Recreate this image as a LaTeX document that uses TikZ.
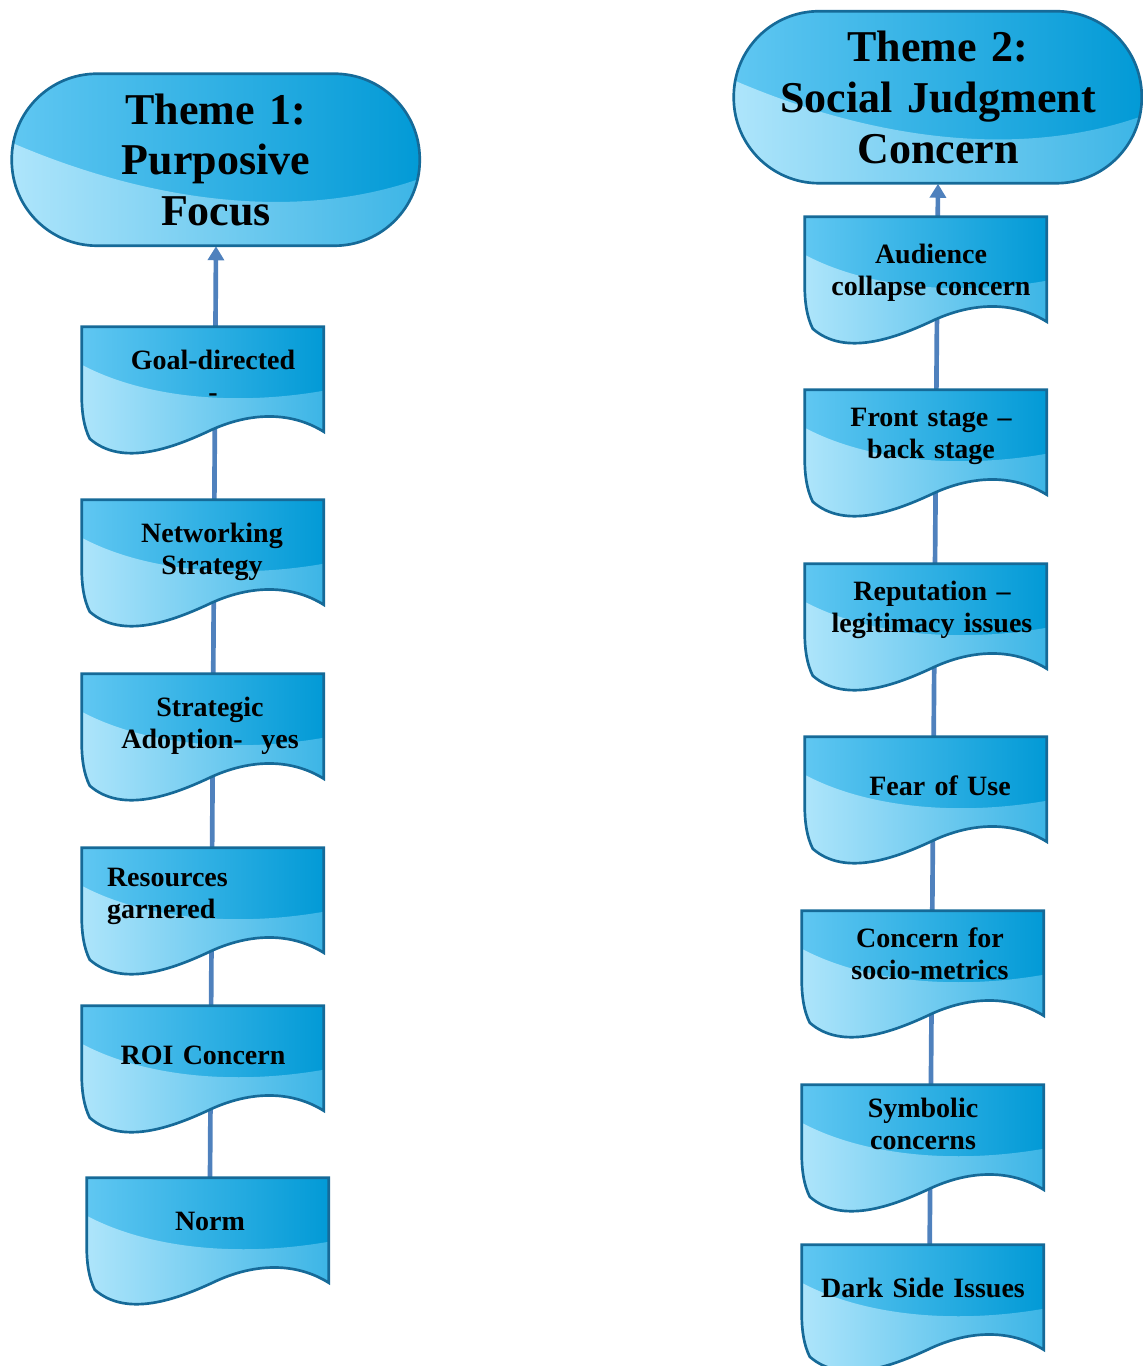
\documentclass[tikz,border=0pt]{standalone}
\usepackage{fontspec}
\setmainfont{Liberation Serif}[WordSpace=0.8]
\usetikzlibrary{arrows.meta}
\pgfdeclarelayer{lines}
\pgfdeclarelayer{shapes}
\pgfsetlayers{lines,shapes,main}
\definecolor{boxleft}{RGB}{96,199,242}
\definecolor{boxright}{RGB}{2,154,214}
\definecolor{glossleft}{RGB}{174,229,251}
\definecolor{glossright}{RGB}{60,181,230}
\definecolor{boxedge}{RGB}{22,106,152}
\definecolor{connblue}{RGB}{79,129,189}
\tikzset{
	box/.style={rectangle, text width=160pt, inner xsep=10.75pt, inner ysep=0pt, minimum height=78.75pt, align=center, text height=12pt, font=\bfseries\fontsize{21}{24}\selectfont},
	base/.style={text depth=#1},
	nudge/.style={execute at begin node={\advance\leftskip by #1}},
	theme/.style={rectangle, text width=250pt, inner xsep=28pt, inner ysep=0pt, minimum height=129pt, align=center, font=\bfseries\fontsize{33}{38}\selectfont},
	conn/.style={connblue, line width=3.5pt, -{Triangle[width=12pt,length=10.5pt]}},
	edge/.style={draw=boxedge, line width=2pt},
}
\newcommand{\docpath}{(0,0) -- (242,0) -- (242,105) .. controls (210,85) and (170,85) .. (130,103) .. controls (90,122) and (40,140) .. (8,112) .. controls (2,100) and (0,85) .. (0,70) -- cycle}
\newcommand{\docshape}[1]{%
	\begin{scope}[shift={(#1.north west)}]
		\shade[left color=boxleft, right color=boxright] \docpath;
		\begin{scope}
			\clip \docpath;
			\shade[left color=glossleft, right color=glossright] (0,38) .. controls (60,70) and (150,80) .. (242,64) -- (242,150) -- (0,150) -- cycle;
		\end{scope}
		\draw[edge] \docpath;
	\end{scope}}
\newcommand{\themeshape}[1]{%
	\begin{scope}[shift={(#1.north west)}]
		\shade[left color=boxleft, right color=boxright, rounded corners=64pt] (0,0) rectangle (408,172);
		\begin{scope}
			\clip[rounded corners=64pt] (0,0) rectangle (408,172);
			\shade[left color=glossleft, right color=glossright] (0,69) .. controls (130,125) and (280,150) .. (408,105) -- (408,180) -- (0,180) -- cycle;
		\end{scope}
		\draw[edge, rounded corners=64pt] (0,0) rectangle (408,172);
	\end{scope}}
\begin{document}
\begin{tikzpicture}[x=0.75pt, y=-0.75pt]
	\useasboundingbox (0,0) rectangle (1142,1366);
	% Theme 1
	\node[theme] (purposive) at (216,160) {Theme 1:\\Purposive\\Focus};
	\node[box, base=26.3pt, nudge=15pt] (goal) at (203,379.5) {Goal-directed\\-};
	\node[box, base=27.7pt, nudge=13.5pt] (networking) at (203,552.5) {Networking\\Strategy};
	\node[box, base=27.7pt, nudge=10.5pt] (adoption) at (203,726.5) {Strategic\\Adoption-~~yes};
	\node[box, base=32.3pt, align=left] (resources) at (203,900.5) {\hspace*{8pt}Resources\\\hspace*{8pt}garnered};
	\node[box, base=3.7pt] (roi) at (203,1058.5) {ROI Concern};
	\node[box, base=12.7pt, nudge=3pt] (norm) at (208,1230.5) {Norm};
	% Theme 2
	\node[theme] (social) at (938,97.5) {Theme 2:\\Social Judgment\\Concern};
	\node[box, base=20.3pt, nudge=7.5pt] (audience) at (926,269.5) {Audience\\collapse concern};
	\node[box, base=35.3pt, nudge=7.5pt] (stage) at (926,442.5) {Front stage –\\back stage};
	\node[box, base=35.3pt, nudge=9pt] (reputation) at (926,616.5) {Reputation –\\legitimacy issues};
	\node[box, base=3.7pt, nudge=21pt] (fear) at (926,789.5) {Fear of Use};
	\node[box, base=35.3pt, nudge=10.5pt] (metrics) at (923,963.5) {Concern for\\socio-metrics};
	\node[box, base=41.3pt] (symbolic) at (923,1137.5) {Symbolic\\concerns};
	\node[box, base=11.3pt] (darkside) at (923,1297.5) {Dark Side Issues};
	\begin{pgfonlayer}{shapes}
		\themeshape{purposive}
		\themeshape{social}
		\foreach \n in {goal,networking,adoption,resources,roi,norm,audience,stage,reputation,fear,metrics,symbolic,darkside} {
			\docshape{\n}
		}
	\end{pgfonlayer}
	\begin{pgfonlayer}{lines}
		\draw[conn] ([xshift=1.5pt]norm.north) -- (purposive.south);
		\draw[conn] ([xshift=5pt]darkside.north) -- (social.south);
	\end{pgfonlayer}
\end{tikzpicture}
\end{document}
